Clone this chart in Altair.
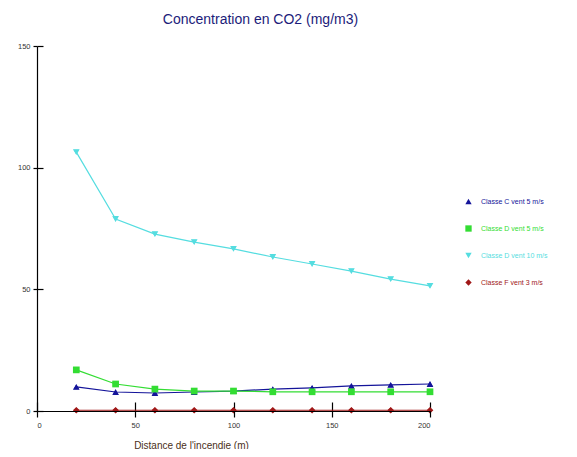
import altair as alt
import pandas as pd

distances = [20, 40, 60, 80, 100, 120, 140, 160, 180, 200]
series_names = ["Classe C vent 5 m/s", "Classe D vent 5 m/s", "Classe D vent 10 m/s", "Classe F vent 3 m/s"]
c_5 = [9.9, 7.8, 7.4, 7.8, 8.2, 9.0, 9.5, 10.3, 10.7, 11.1]
d_5 = [16.9, 11.1, 9.0, 8.2, 8.2, 7.9, 7.9, 7.9, 7.9, 7.9]
d_10 = [106.4, 78.9, 72.7, 69.4, 66.6, 63.3, 60.4, 57.5, 54.2, 51.4]
f_3 = [0.3, 0.3, 0.3, 0.3, 0.3, 0.3, 0.3, 0.3, 0.3, 0.3]
colors = ["#14149a", "#33dd33", "#55dde0", "#a01818"]
shapes = ["triangle-up", "square", "triangle-down", "diamond"]
x_ticks = [0, 50, 100, 150, 200]
y_ticks = [0, 50, 100, 150]

rows = []
for name, vals in zip(series_names, [c_5, d_5, d_10, f_3]):
    for d, v in zip(distances, vals):
        rows.append({"Distance": d, "Valeur": v, "Serie": name})
df = pd.DataFrame(rows)

xs = alt.Scale(domain=[0, 200], nice=False)
ys = alt.Scale(domain=[0, 150], nice=False)
cs = alt.Scale(domain=series_names, range=colors)
ss = alt.Scale(domain=series_names, range=shapes)

label_expr = ("datum.label == '%s' ? '%s' : datum.label == '%s' ? '%s' : "
              "datum.label == '%s' ? '%s' : '%s'") % (
    series_names[0], colors[0], series_names[1], colors[1],
    series_names[2], colors[2], colors[3])

legend = alt.Legend(title=None, orient="none", legendX=428, legendY=152,
                    labelFontSize=7, labelFont="Liberation Sans",
                    labelColor={"expr": label_expr},
                    symbolSize=40, rowPadding=19, labelOffset=9,
                    symbolStrokeWidth=0)

base = alt.Chart(df)

lines = base.mark_line(strokeWidth=1.2).encode(
    x=alt.X("Distance:Q", scale=xs,
            axis=alt.Axis(values=x_ticks, title="Distance de l'incendie (m)", grid=False,
                          tickSize=6, labelPadding=4, titleX=154, titleY=29, zindex=1,
                          titleFontSize=10, titleFontWeight="normal", titleBaseline="top",
                          titleColor="#4a3020", titleFont="Liberation Sans")),
    y=alt.Y("Valeur:Q", scale=ys,
            axis=alt.Axis(values=y_ticks, title=None, tickSize=4, labelPadding=3, grid=False)),
    color=alt.Color("Serie:N", scale=cs, legend=legend),
    shape=alt.Shape("Serie:N", scale=ss, legend=legend),
)

points = base.mark_point(filled=True, opacity=1).encode(
    x=alt.X("Distance:Q", scale=xs,
            axis=alt.Axis(orient="top", offset=-365, values=x_ticks, labels=False, grid=False,
                          domain=False, title=None, tickSize=9)),
    y=alt.Y("Valeur:Q", scale=ys,
            axis=alt.Axis(orient="right", offset=-393, values=y_ticks, labels=False, grid=False,
                          domain=False, title=None, tickSize=6)),
    color=alt.Color("Serie:N", scale=cs, legend=legend),
    shape=alt.Shape("Serie:N", scale=ss, legend=legend),
    size=alt.value(45),
)

chart = alt.layer(lines, points).resolve_axis(x="independent", y="independent").properties(
    width=393, height=365,
    autosize=alt.AutoSizeParams(type="none"),
    padding={"left": 29, "top": 38, "right": 139, "bottom": 38},
    title=alt.TitleParams("Concentration en CO2 (mg/m3)", fontSize=14, font="Liberation Sans",
                          fontWeight="normal", color="#1c1c7a", anchor="middle", dx=27, offset=15),
).configure(background="white").configure_view(stroke=None).configure_axis(
    grid=False, domainColor="black", tickColor="black", labelColor="#333333",
    labelFont="Liberation Sans", labelFontSize=7.5, domainWidth=1.2, tickWidth=1.2,
)

chart.save("out.html", embed_options={"renderer": "svg", "actions": False})
